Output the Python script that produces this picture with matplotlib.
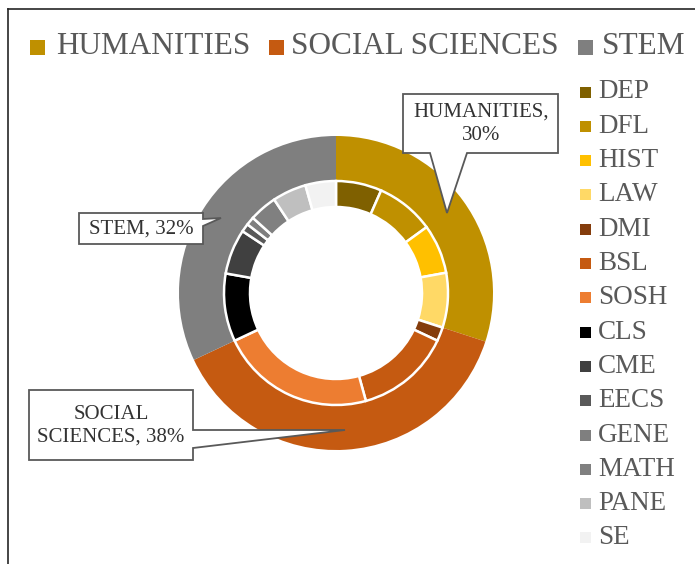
import matplotlib.pyplot as plt
from matplotlib.patches import Rectangle, Polygon

plt.rcParams['font.family'] = ['Liberation Serif', 'DejaVu Serif']

# outer ring: faculties (percent)
groups = ['HUMANITIES', 'SOCIAL SCIENCES', 'STEM']
group_share = [30, 38, 32]
group_colors = ['#BF9000', '#C55A11', '#7F7F7F']

# inner ring: departments (percent)
depts = ['DEP', 'DFL', 'HIST', 'LAW', 'DMI', 'BSL', 'SOSH',
         'CLS', 'CME', 'EECS', 'GENE', 'MATH', 'PANE', 'SE']
dept_share = [6.6, 8.4, 7.1, 7.9, 2.0, 13.7, 22.3,
              9.8, 6.5, 1.2, 1.2, 4.0, 4.9, 4.4]
dept_colors = ['#7F6000', '#BF9000', '#FFC000', '#FFD966', '#843C0C',
               '#C55A11', '#ED7D31', '#000000', '#404040', '#595959',
               '#7F7F7F', '#808080', '#BFBFBF', '#F2F2F2']

W, H = 695, 564
fig = plt.figure(figsize=(W / 100, H / 100), dpi=100)
ax = fig.add_axes([0, 0, 1, 1])


def py(y):
    # pixel row (from top) -> data y
    return H - y


cx, cy = 336, py(293)
ax.pie(group_share, radius=157, center=(cx, cy), startangle=90,
       counterclock=False, colors=group_colors,
       wedgeprops=dict(width=45, linewidth=0))
ax.pie(dept_share, radius=112, center=(cx, cy), startangle=90,
       counterclock=False, colors=dept_colors,
       wedgeprops=dict(width=26, edgecolor='white', linewidth=1.8))

ax.set_xlim(0, W)
ax.set_ylim(0, H)
ax.set_aspect('auto')
ax.axis('off')

# frame lines (top and left only are visible)
ax.plot([7.5, 7.5], [py(9), 0], color='#262626', lw=1.2, clip_on=False)
ax.plot([7.5, W], [py(9), py(9)], color='#262626', lw=1.2, clip_on=False)

legend_grey = '#595959'

# top legend
top_sq_x = [30, 269, 578]
top_tx_x = [56, 291, 602]
for name, col, sx, tx in zip(groups, group_colors, top_sq_x, top_tx_x):
    ax.add_patch(Rectangle((sx, py(54.5)), 15, 15, facecolor=col,
                           edgecolor='none'))
    ax.text(tx, py(47), name, fontsize=22.5, color=legend_grey,
            ha='left', va='center')

# right legend
for i, (name, col) in enumerate(zip(depts, dept_colors)):
    yc = 92 + i * 34.3
    ax.add_patch(Rectangle((580, py(yc + 5.5)), 11, 11, facecolor=col,
                           edgecolor='none'))
    ax.text(598, py(yc), name, fontsize=19.5, color=legend_grey,
            ha='left', va='center')

# callouts
callouts = [
    ([(403, 94), (558, 94), (558, 153), (467, 153), (447, 213),
      (430, 153), (403, 153)],
     (481, 124), 'HUMANITIES,\n30%', 1.3),
    ([(79, 213), (203, 213), (203, 219), (221, 218), (203, 226),
      (203, 244), (79, 244)],
     (141, 229), 'STEM, 32%', 1.2),
    ([(29, 390), (193, 390), (193, 430), (345, 430), (193, 448),
      (193, 460), (29, 460)],
     (111, 426), 'SOCIAL\nSCIENCES, 38%', 1.22),
]
for pts, (tx, ty), label, ls in callouts:
    ax.add_patch(Polygon([(x, py(y)) for x, y in pts], closed=True,
                         facecolor='white', edgecolor='#595959',
                         linewidth=1.3, joinstyle='miter', zorder=5))
    ax.text(tx, py(ty), label, fontsize=15, color='#333333', ha='center',
            va='center', linespacing=ls, multialignment='center', zorder=6)

fig.savefig('out.png', dpi=100)
